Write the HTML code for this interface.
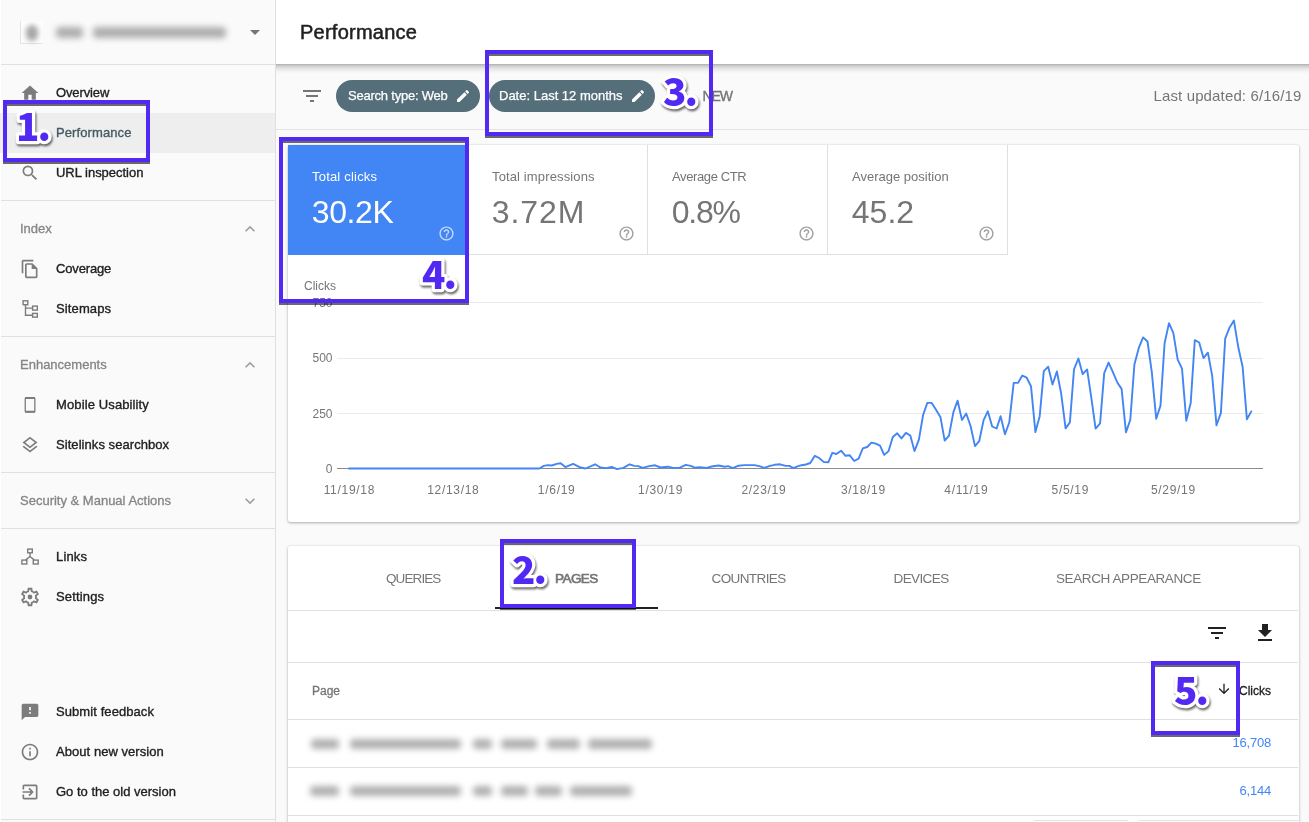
<!DOCTYPE html>
<html lang="en">
<head>
<meta charset="utf-8">
<title>Performance</title>
<style>
*{box-sizing:border-box;margin:0;padding:0}
html,body{width:1309px;height:822px;overflow:hidden;background:#fafafa;font-family:"Liberation Sans",sans-serif;color:#212121}
.abs,.abs>*{position:absolute}
#app{position:relative;width:1309px;height:822px;overflow:hidden}
/* sidebar */
#side{position:absolute;left:0;top:0;width:276px;height:822px;background:#fafafa;border-right:1px solid #e0e0e0;border-left:1px solid #fff}
.hr{position:absolute;left:1px;width:274px;height:1px;background:#e0e0e0}
.nav{position:absolute;left:0;width:275px;height:40px}
.nav.on{background:#eeeeee}
.nav span{position:absolute;left:56px;top:0;line-height:40px;font-size:13px;color:#212121;-webkit-text-stroke:.35px #212121;white-space:nowrap}
.nav.on span{color:#455a64;-webkit-text-stroke-color:#455a64}
.nav svg{position:absolute;left:20px;top:10px;width:20px;height:20px;fill:#7c7c7c}
.sec{position:absolute;left:20px;line-height:20px;font-size:13px;color:#858585;-webkit-text-stroke:.3px #858585;white-space:nowrap}
.chev{position:absolute;left:240px;width:20px;height:20px;fill:#9e9e9e}
/* main */
#top{position:absolute;left:276px;top:0;width:1033px;height:64px;background:#fff}
#tsh{position:absolute;left:276px;top:64px;width:1033px;height:10px;background:linear-gradient(rgba(0,0,0,.31),rgba(0,0,0,.2) 15%,rgba(0,0,0,.1) 40%,rgba(0,0,0,.035) 70%,rgba(0,0,0,0))}
#top h1{position:absolute;left:24px;top:0;line-height:64px;font-size:20px;font-weight:normal;color:#212121;-webkit-text-stroke:.5px #212121;letter-spacing:.25px}
#fbar{position:absolute;left:276px;top:64px;width:1033px;height:66px;border-bottom:1px solid #e3e3e3;background:#fafafa}
.chip{position:absolute;top:80px;height:32px;border-radius:16px;background:#546e7a;color:#fff;-webkit-text-stroke:.25px #fff;font-size:13px;line-height:32px;white-space:nowrap}
.chip span{position:absolute;left:12px;top:0}
.chip svg{position:absolute;right:9px;top:8px;width:16px;height:16px;fill:#fff}
.card{position:absolute;left:288px;width:1011px;background:#fff;border-radius:2px;box-shadow:0 1px 3px rgba(0,0,0,.3),0 0 1px rgba(0,0,0,.2)}
.tile{position:absolute;top:0;width:180px;height:110px;border-right:1px solid #e0e0e0;border-bottom:1px solid #e0e0e0;color:#757575}
.tile.b{background:#4285f4;color:#fff;border-color:#4285f4}
.tile .l{position:absolute;left:24px;top:24px;font-size:13px;line-height:16px;white-space:nowrap}
.tile .v{position:absolute;left:23.800px;top:48px;font-size:32px;line-height:38px;white-space:nowrap}
.tile svg{position:absolute;left:150px;top:80px;width:17px;height:17px}
.ax{position:absolute;font-size:12px;line-height:14px;color:#757575;white-space:nowrap}
.tab{position:absolute;top:0;height:64px;line-height:65px;font-size:13.500px;color:#757575;white-space:nowrap}
.row{position:absolute;left:0;width:1010px;height:1px;background:#e0e0e0}
.num{position:absolute;right:28px;letter-spacing:-.2px;font-size:13px;line-height:16px;color:#4285f4;white-space:nowrap}
.bl{position:absolute;left:0;top:0;width:100%;height:100%;filter:blur(3.200px);pointer-events:none}
.bl i{position:absolute;border-radius:4px}
#new{position:absolute;left:702.400px;top:86px;line-height:20px;font-size:14px;color:#757575;-webkit-text-stroke:.35px #757575;letter-spacing:-1.1px}
#upd{position:absolute;right:7.500px;top:86px;line-height:20px;font-size:15px;color:#757575;white-space:nowrap;letter-spacing:.14px}
.xl{top:338px;transform:translateX(-50%);letter-spacing:.7px;text-indent:.7px}
.th{position:absolute;font-size:12px;line-height:16px;color:#757575;-webkit-text-stroke:.3px currentColor;white-space:nowrap}
/* annotations */
.box{position:absolute;border:4px solid #5229f3;filter:drop-shadow(.4px 2.900px .6px rgba(0,0,0,.58))}
.n{position:absolute;width:60px;height:40px;overflow:visible;filter:drop-shadow(1px 2.500px .8px rgba(0,0,0,.6))}
.n text{font-family:"Noto Sans CJK SC","Liberation Sans",sans-serif;font-weight:900;font-size:38.500px;letter-spacing:-2px;fill:#5229f3;stroke:#fff;stroke-width:6.500px;stroke-linejoin:round;paint-order:stroke fill}
</style>
</head>
<body>
<div id="app">

<!-- ============ SIDEBAR ============ -->
<div id="side"></div>
<div id="sidec">
  <div style="position:absolute;left:20px;top:21px;width:23px;height:23px;background:#fdfdfd;border-left:1px solid #e4e4e4;border-bottom:1px solid #e4e4e4"></div><div class="bl" style="filter:blur(2.800px)"><i style="left:26px;top:25px;width:12px;height:16px;background:#a8a8a8;border-radius:6px"></i></div>
  <div class="bl" style="filter:blur(3.400px)"><i style="left:56px;top:26.500px;width:27px;height:11px;background:#adadad"></i><i style="left:93px;top:26.500px;width:133px;height:11px;background:#adadad"></i></div>
  <svg style="position:absolute;left:243px;top:20px;width:24px;height:24px;fill:#757575" viewBox="0 0 24 24"><path d="M7 10l5 5 5-5z"/></svg>
  <div class="hr" style="top:64px"></div>

  <div class="nav" style="top:73px"><svg viewBox="0 0 24 24"><path d="M10 20v-6h4v6h5v-8h3L12 3 2 12h3v8z"/></svg><span style="letter-spacing:-0.13px">Overview</span></div>
  <div class="nav on" style="top:113px"><span style="letter-spacing:0.10px">Performance</span></div>
  <div class="nav" style="top:153px"><svg viewBox="0 0 24 24"><path d="M15.5 14h-.79l-.28-.27A6.471 6.471 0 0 0 16 9.5 6.5 6.5 0 1 0 9.500 16c1.610 0 3.090-.59 4.230-1.570l.27.28v.79l5 4.990L20.490 19l-4.990-5zm-6 0C7.010 14 5 11.990 5 9.500S7.010 5 9.500 5 14 7.010 14 9.500 11.990 14 9.500 14z"/></svg><span style="letter-spacing:-0.02px">URL inspection</span></div>
  <div class="hr" style="top:200px"></div>

  <div class="sec" style="top:219px">Index</div>
  <svg class="chev" style="top:219px" viewBox="0 0 24 24"><path d="M7.410 15.410L12 10.830l4.590 4.580L18 14l-6-6-6 6z"/></svg>
  <div class="nav" style="top:249px"><svg viewBox="0 0 24 24"><path d="M16 1H4c-1.100 0-2 .9-2 2v14h2V3h12V1zm-1 4H8c-1.100 0-1.990.9-1.990 2L6 21c0 1.100.89 2 1.990 2H19c1.100 0 2-.9 2-2V11l-6-6zM8 21V7h6v5h5v9H8z"/></svg><span style="letter-spacing:-0.15px">Coverage</span></div>
  <div class="nav" style="top:289px"><svg viewBox="0 0 20 20" style="fill:none" stroke="#7c7c7c" stroke-width="1.400"><rect x="3.100" y="1.800" width="4.700" height="3.900"/><rect x="12.600" y="7.100" width="4.700" height="4"/><rect x="12.600" y="14.400" width="4.700" height="3.700"/><path d="M5.500 5.700V16.300H12.600M5.500 9.100H12.600"/></svg><span style="letter-spacing:0.12px">Sitemaps</span></div>
  <div class="hr" style="top:336px"></div>

  <div class="sec" style="top:355px">Enhancements</div>
  <svg class="chev" style="top:355px" viewBox="0 0 24 24"><path d="M7.410 15.410L12 10.830l4.590 4.580L18 14l-6-6-6 6z"/></svg>
  <div class="nav" style="top:385px"><svg viewBox="0 0 20 20" style="fill:none" stroke="#7c7c7c"><rect x="5.250" y="2.700" width="9.600" height="14.500" rx="1" stroke-width="1.300"/><path d="M5 3.200H15M5 16.700H15" stroke-width="1.800"/></svg><span style="letter-spacing:0.12px">Mobile Usability</span></div>
  <div class="nav" style="top:425px"><svg viewBox="0 0 24 24"><path d="M11.990 18.540l-7.370-5.730L3 14.070l9 7 9-7-1.630-1.270-7.380 5.740zM12 16l7.360-5.730L21 9l-9-7-9 7 1.630 1.270L12 16zm0-11.470L17.740 9 12 13.470 6.260 9 12 4.530z"/></svg><span style="letter-spacing:0.06px">Sitelinks searchbox</span></div>
  <div class="hr" style="top:472px"></div>

  <div class="sec" style="top:491px">Security &amp; Manual Actions</div>
  <svg class="chev" style="top:491px" viewBox="0 0 24 24"><path d="M16.590 8.590L12 13.170 7.410 8.590 6 10l6 6 6-6z"/></svg>
  <div class="hr" style="top:528px"></div>

  <div class="nav" style="top:537px"><svg viewBox="0 0 20 20" style="fill:none" stroke="#7c7c7c" stroke-width="1.400"><rect x="7.700" y="2.100" width="4.600" height="3.700"/><rect x="1.900" y="13.100" width="4.900" height="3.900"/><rect x="13.300" y="13.100" width="4.900" height="3.900"/><path d="M10 5.800V9.500M10 9.500L5.500 13.100M10 9.500L14.500 13.100"/></svg><span style="letter-spacing:0.15px">Links</span></div>
  <div class="nav" style="top:577px"><svg viewBox="0 0 24 24" style="left:19px;top:9px;width:22px;height:22px"><path d="M19.430 12.980c.04-.32.07-.64.07-.98 0-.34-.03-.66-.07-.98l2.110-1.650c.19-.15.240-.42.120-.64l-2-3.460c-.09-.16-.26-.25-.44-.25-.06 0-.12.010-.17.030l-2.490 1c-.52-.4-1.080-.73-1.690-.98l-.38-2.650C14.460 2.180 14.250 2 14 2h-4c-.25 0-.46.180-.49.420l-.38 2.650c-.61.250-1.170.59-1.690.98l-2.490-1c-.06-.02-.12-.03-.18-.03-.17 0-.34.090-.43.250l-2 3.460c-.13.220-.07.490.12.640l2.110 1.650c-.04.32-.07.650-.07.980 0 .33.030.66.070.98l-2.110 1.650c-.19.150-.24.420-.12.640l2 3.460c.09.160.26.250.44.250.06 0 .12-.01.170-.03l2.490-1c.52.400 1.080.73 1.690.98l.38 2.650c.03.240.24.420.49.420h4c.25 0 .46-.18.490-.42l.38-2.650c.61-.25 1.170-.59 1.690-.98l2.490 1c.06.020.12.030.18.030.17 0 .34-.09.430-.25l2-3.460c.12-.22.070-.49-.12-.64l-2.110-1.650zm-1.980-1.710c.04.310.05.520.05.730 0 .21-.02.430-.05.730l-.14 1.130.89.700 1.080.84-.7 1.210-1.270-.51-1.040-.42-.9.680c-.43.320-.84.560-1.250.73l-1.060.43-.16 1.130-.2 1.350h-1.400l-.19-1.350-.16-1.130-1.060-.43c-.43-.18-.83-.41-1.230-.71l-.91-.7-1.060.43-1.270.51-.7-1.210 1.080-.84.890-.7-.14-1.130c-.03-.31-.05-.54-.05-.74s.02-.43.050-.73l.14-1.130-.89-.7-1.080-.84.7-1.210 1.270.51 1.040.42.900-.68c.43-.32.840-.56 1.250-.73l1.060-.43.160-1.130.2-1.350h1.390l.19 1.350.16 1.130 1.060.43c.43.180.83.410 1.230.71l.91.700 1.060-.43 1.270-.51.700 1.210-1.070.85-.89.700.14 1.130zM12 9.400a2.600 2.600 0 1 0 0 5.200 2.600 2.600 0 1 0 0-5.200z"/></svg><span style="letter-spacing:0.15px">Settings</span></div>

  <div class="nav" style="top:692px"><svg viewBox="0 0 24 24"><path d="M20 2H4c-1.100 0-1.990.9-1.990 2L2 22l4-4h14c1.100 0 2-.9 2-2V4c0-1.100-.9-2-2-2zm-7 12h-2v-2h2v2zm0-4h-2V6h2v4z"/></svg><span style="letter-spacing:0.08px">Submit feedback</span></div>
  <div class="nav" style="top:732px"><svg viewBox="0 0 24 24"><path d="M11 7h2v2h-2zm0 4h2v6h-2zm1-9C6.480 2 2 6.480 2 12s4.480 10 10 10 10-4.480 10-10S17.520 2 12 2zm0 18c-4.410 0-8-3.590-8-8s3.590-8 8-8 8 3.590 8 8-3.590 8-8 8z"/></svg><span style="letter-spacing:0.05px">About new version</span></div>
  <div class="nav" style="top:772px"><svg viewBox="0 0 24 24"><path d="M10.090 15.590L11.500 17l5-5-5-5-1.410 1.410L12.670 11H3v2h9.670l-2.580 2.590zM19 3H5c-1.110 0-2 .9-2 2v4h2V5h14v14H5v-4H3v4c0 1.100.89 2 2 2h14c1.100 0 2-.9 2-2V5c0-1.100-.9-2-2-2z"/></svg><span style="letter-spacing:0.00px">Go to the old version</span></div>
  <div class="hr" style="top:819px"></div>
</div>

<!-- ============ MAIN ============ -->
<div id="fbar"></div>
<div id="top"><h1>Performance</h1></div>
<div id="tsh"></div>

<svg style="position:absolute;left:300px;top:84px;width:24px;height:24px;fill:#757575" viewBox="0 0 24 24"><path d="M10 18h4v-2h-4v2zM3 6v2h18V6H3zm3 7h12v-2H6v2z"/></svg>
<div class="chip" style="left:336px;width:144px"><span style="letter-spacing:-.22px">Search type: Web</span><svg viewBox="0 0 24 24"><path d="M3 17.250V21h3.750L17.810 9.940l-3.750-3.750L3 17.250zM20.710 7.040c.39-.39.39-1.020 0-1.410l-2.340-2.340c-.39-.39-1.020-.39-1.410 0l-1.830 1.830 3.750 3.750 1.830-1.830z"/></svg></div>
<div class="chip" style="left:489px;width:166px"><span style="left:10px">Date: Last 12 months</span><svg viewBox="0 0 24 24"><path d="M3 17.250V21h3.750L17.810 9.940l-3.750-3.750L3 17.250zM20.710 7.040c.39-.39.39-1.020 0-1.410l-2.340-2.340c-.39-.39-1.020-.39-1.410 0l-1.830 1.830 3.750 3.750 1.830-1.830z"/></svg></div>
<div id="new">NEW</div>
<div id="upd">Last updated: 6/16/19</div>

<!-- card 1 : metrics + chart -->
<div class="card" id="c1" style="top:145px;height:376.500px">
  <div class="tile b" style="left:0"><div class="l" style="letter-spacing:.2px">Total clicks</div><div class="v" style="letter-spacing:-.4px">30.2K</div><svg viewBox="0 0 24 24" fill="#fff" opacity=".7"><path d="M11 18h2v-2h-2v2zm1-16C6.480 2 2 6.480 2 12s4.480 10 10 10 10-4.480 10-10S17.520 2 12 2zm0 18c-4.410 0-8-3.590-8-8s3.590-8 8-8 8 3.590 8 8-3.590 8-8 8zm0-14c-2.210 0-4 1.790-4 4h2c0-1.100.9-2 2-2s2 .9 2 2c0 2-3 1.750-3 5h2c0-2.250 3-2.500 3-5 0-2.210-1.790-4-4-4z"/></svg></div>
  <div class="tile" style="left:180px"><div class="l" style="letter-spacing:.13px">Total impressions</div><div class="v" style="letter-spacing:.9px">3.72M</div><svg viewBox="0 0 24 24" fill="#9e9e9e"><path d="M11 18h2v-2h-2v2zm1-16C6.480 2 2 6.480 2 12s4.480 10 10 10 10-4.480 10-10S17.520 2 12 2zm0 18c-4.410 0-8-3.590-8-8s3.590-8 8-8 8 3.590 8 8-3.590 8-8 8zm0-14c-2.210 0-4 1.790-4 4h2c0-1.100.9-2 2-2s2 .9 2 2c0 2-3 1.750-3 5h2c0-2.250 3-2.500 3-5 0-2.210-1.790-4-4-4z"/></svg></div>
  <div class="tile" style="left:360px"><div class="l" style="letter-spacing:-.38px">Average CTR</div><div class="v" style="letter-spacing:-1.300px">0.8%</div><svg viewBox="0 0 24 24" fill="#9e9e9e"><path d="M11 18h2v-2h-2v2zm1-16C6.480 2 2 6.480 2 12s4.480 10 10 10 10-4.480 10-10S17.520 2 12 2zm0 18c-4.410 0-8-3.590-8-8s3.590-8 8-8 8 3.590 8 8-3.590 8-8 8zm0-14c-2.210 0-4 1.790-4 4h2c0-1.100.9-2 2-2s2 .9 2 2c0 2-3 1.750-3 5h2c0-2.250 3-2.500 3-5 0-2.210-1.790-4-4-4z"/></svg></div>
  <div class="tile" style="left:540px"><div class="l">Average position</div><div class="v" style="letter-spacing:0px">45.2</div><svg viewBox="0 0 24 24" fill="#9e9e9e"><path d="M11 18h2v-2h-2v2zm1-16C6.480 2 2 6.480 2 12s4.480 10 10 10 10-4.480 10-10S17.520 2 12 2zm0 18c-4.410 0-8-3.590-8-8s3.590-8 8-8 8 3.590 8 8-3.590 8-8 8zm0-14c-2.210 0-4 1.790-4 4h2c0-1.100.9-2 2-2s2 .9 2 2c0 2-3 1.750-3 5h2c0-2.250 3-2.500 3-5 0-2.210-1.790-4-4-4z"/></svg></div>

  <div class="ax" style="left:16px;top:134px">Clicks</div>
  <svg style="position:absolute;left:0;top:0;width:1010px;height:376px" viewBox="0 0 1010 376">
    <g stroke="#ebebeb" stroke-width="1">
      <line x1="49" y1="157.500" x2="975" y2="157.500"/>
      <line x1="49" y1="213.500" x2="975" y2="213.500"/>
      <line x1="49" y1="268.500" x2="975" y2="268.500"/>
    </g>
    <line x1="49" y1="323.500" x2="975" y2="323.500" stroke="#8c8c8c" stroke-width="1"/>
    <polyline fill="none" stroke="#4285f4" stroke-width="1.900" stroke-linejoin="round" stroke-linecap="round" points="61.0,323.5 251.3,323.5 255.8,320.9 259.8,320.1 263.8,320.5 268.7,318.9 272.7,318.3 277.3,322.1 285.2,318.9 291.6,322.1 297.5,323.5 307.1,319.3 312.4,322.5 318.4,323.1 323.8,321.9 328.9,324.1 335.3,322.9 341.6,319.3 346.2,320.9 350.2,321.1 354.7,322.9 361.1,321.1 367.1,320.3 372.6,322.5 380.0,321.7 384.9,322.9 391.9,322.7 397.8,319.9 402.8,320.9 406.8,322.7 411.7,322.1 418.7,322.9 423.7,321.5 430.6,320.5 436.6,321.7 440.1,321.1 444.9,323.1 450.5,320.7 456.4,320.1 466.4,320.1 471.3,321.1 476.3,322.9 482.0,320.9 486.6,319.8 492.1,319.3 497.6,320.9 501.3,320.9 505.5,323.1 509.5,321.3 513.5,320.2 517.9,319.5 522.3,318.0 526.9,310.8 531.1,313.0 535.9,317.1 540.3,317.3 544.3,307.9 548.4,309.0 553.1,305.7 557.5,310.8 561.8,310.3 566.2,316.0 570.6,313.6 574.8,303.3 579.2,302.0 583.4,297.6 587.8,298.7 592.0,300.6 596.2,309.9 600.6,306.1 604.8,292.0 609.2,288.3 613.5,293.4 617.9,287.9 622.3,290.5 626.5,306.1 630.9,294.7 635.1,270.0 639.3,257.9 643.7,257.9 647.9,264.5 652.5,272.3 656.7,295.6 661.0,290.7 665.4,267.2 669.6,255.7 674.0,275.1 678.2,268.5 682.6,281.0 687.0,301.1 691.2,296.2 695.6,275.1 699.8,266.3 704.2,281.5 708.6,283.5 712.6,271.2 717.0,289.2 721.3,277.2 725.7,237.9 730.0,237.9 734.3,230.6 738.7,232.7 743.0,241.2 747.4,287.1 751.7,271.2 755.8,226.1 760.2,221.7 764.5,239.5 768.9,226.5 773.2,248.8 777.6,283.4 781.9,277.4 786.0,224.4 790.4,213.5 794.7,229.2 799.1,224.4 803.2,251.9 807.6,283.6 812.1,278.4 816.2,228.2 820.6,217.6 824.9,227.1 829.3,237.5 833.6,243.9 838.0,287.3 842.3,274.7 846.4,219.5 850.8,202.9 855.1,192.4 859.5,196.5 863.8,227.1 868.2,273.7 872.5,260.6 876.6,198.2 881.0,178.1 885.3,187.8 889.7,214.7 894.0,223.6 898.3,275.7 902.7,258.1 906.8,195.1 911.2,197.5 915.5,213.1 919.9,207.7 924.2,230.8 928.5,280.3 932.9,267.9 937.2,193.6 941.6,182.4 945.9,175.6 950.3,202.3 954.6,221.7 958.9,274.3 963.3,266.4"/>
  </svg>
  <div class="ax" style="right:966.500px;top:151px">750</div>
  <div class="ax" style="right:966.500px;top:206px">500</div>
  <div class="ax" style="right:966.500px;top:262px">250</div>
  <div class="ax" style="right:966.500px;top:317px">0</div>
  <div class="ax xl" style="left:61.0px">11/19/18</div>
  <div class="ax xl" style="left:165.0px">12/13/18</div>
  <div class="ax xl" style="left:268.3px">1/6/19</div>
  <div class="ax xl" style="left:372.2px">1/30/19</div>
  <div class="ax xl" style="left:475.5px">2/23/19</div>
  <div class="ax xl" style="left:575.0px">3/18/19</div>
  <div class="ax xl" style="left:678.0px">4/11/19</div>
  <div class="ax xl" style="left:782.0px">5/5/19</div>
  <div class="ax xl" style="left:885.0px">5/29/19</div>
</div>

<!-- card 2 : table -->
<div class="card" id="c2" style="top:546px;height:290px">
  <div class="tab" style="left:98px;letter-spacing:-.9px">QUERIES</div>
  <div class="tab" style="left:267px;letter-spacing:-.55px;-webkit-text-stroke:.65px #757575">PAGES</div>
  <div class="tab" style="left:423.500px;letter-spacing:-.6px">COUNTRIES</div>
  <div class="tab" style="left:605.500px;letter-spacing:-.6px">DEVICES</div>
  <div class="tab" style="left:768px;letter-spacing:-.4px">SEARCH APPEARANCE</div>
  <div style="position:absolute;left:207px;top:61px;width:163px;height:2px;background:#212121"></div>
  <div class="row" style="top:64px"></div>
  <svg style="position:absolute;left:917px;top:74.500px;width:24px;height:24px;fill:#212121" viewBox="0 0 24 24"><path d="M10 18h4v-2h-4v2zM3 6v2h18V6H3zm3 7h12v-2H6v2z"/></svg>
  <svg style="position:absolute;left:965px;top:74.500px;width:24px;height:24px;fill:#212121" viewBox="0 0 24 24"><path d="M19 9h-4V3H9v6H5l7 7 7-7zM5 18v2h14v-2H5z"/></svg>
  <div class="row" style="top:116px"></div>
  <div class="th" style="left:24px;top:137px">Page</div>
  <div class="th" style="right:28px;top:137px;color:#212121">Clicks</div>
  <svg style="position:absolute;left:928px;top:135px;width:16px;height:16px;fill:#212121" viewBox="0 0 24 24"><path d="M20 12l-1.410-1.410L13 16.170V4h-2v12.170l-5.580-5.590L4 12l8 8 8-8z"/></svg>
  <div class="row" style="top:173px"></div>
  <div class="bl"><i style="left:23.4px;top:192.9px;width:27.6px;height:10px;background:#b0b0b0"></i><i style="left:61.6px;top:192.9px;width:111.4px;height:10px;background:#b0b0b0"></i><i style="left:185.4px;top:192.9px;width:18.3px;height:10px;background:#b0b0b0"></i><i style="left:212.9px;top:192.9px;width:36.6px;height:10px;background:#b0b0b0"></i><i style="left:258.7px;top:192.9px;width:33.6px;height:10px;background:#b0b0b0"></i><i style="left:300.0px;top:192.9px;width:64.0px;height:10px;background:#b0b0b0"></i><i style="left:22.0px;top:240.0px;width:29.0px;height:10px;background:#b0b0b0"></i><i style="left:61.6px;top:240.0px;width:111.4px;height:10px;background:#b0b0b0"></i><i style="left:185.4px;top:240.0px;width:18.3px;height:10px;background:#b0b0b0"></i><i style="left:212.9px;top:240.0px;width:27.5px;height:10px;background:#b0b0b0"></i><i style="left:246.5px;top:240.0px;width:27.5px;height:10px;background:#b0b0b0"></i><i style="left:281.6px;top:240.0px;width:62.7px;height:10px;background:#b0b0b0"></i></div>
  <div class="num" style="top:189px">16,708</div>
  <div class="row" style="top:221px"></div>
  <div class="num" style="top:237px">6,144</div>
  <div class="row" style="top:269px"></div>
  <div class="row" style="top:274px;left:746px;width:94px;background:#e4e4e4"></div>
  <div class="row" style="top:274px;left:851px;width:160px;background:#e4e4e4"></div>
</div>

<!-- ============ ANNOTATIONS ============ -->
<div class="box" style="left:3px;top:100px;width:147px;height:62px"></div>
<svg class="n" style="left:16px;top:104.300px"><text x="0" y="36.700">1.</text></svg>
<div class="box" style="left:500px;top:539px;width:136px;height:69px"></div>
<svg class="n" style="left:512.300px;top:547.400px"><text x="0" y="36.700">2.</text></svg>
<div class="box" style="left:485px;top:50px;width:227.500px;height:86px"></div>
<svg class="n" style="left:662.500px;top:69px"><text x="0" y="36.700">3.</text></svg>
<div class="box" style="left:279px;top:137px;width:190px;height:166px"></div>
<svg class="n" style="left:422.300px;top:251.700px"><text x="0" y="36.700">4.</text></svg>
<div class="box" style="left:1151px;top:661px;width:89px;height:74px"></div>
<svg class="n" style="left:1174px;top:668.200px"><text x="0" y="36.700">5.</text></svg>

</div>
</body>
</html>
